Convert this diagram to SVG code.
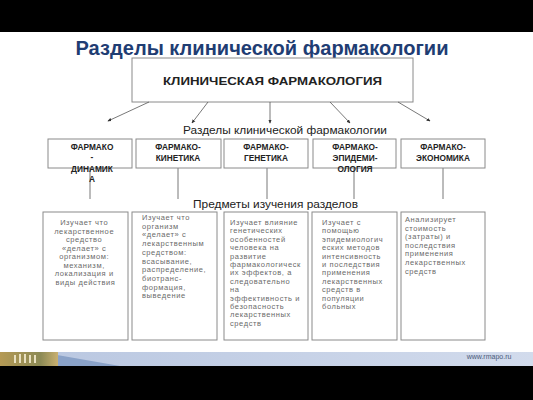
<svg xmlns="http://www.w3.org/2000/svg" width="533" height="400" viewBox="0 0 533 400">
<defs>
<marker id="ah" viewBox="0 0 6 6" refX="5" refY="3" markerWidth="5" markerHeight="5" orient="auto"><path d="M0,0.5 L6,3 L0,5.5 Z" fill="#333"/></marker>
<linearGradient id="band" x1="0" y1="0" x2="1" y2="0"><stop offset="0" stop-color="#b8c6e0"/><stop offset="1" stop-color="#d2dbec"/></linearGradient>
<linearGradient id="bld" x1="0" y1="0" x2="1" y2="0"><stop offset="0" stop-color="#b59a55"/><stop offset="0.7" stop-color="#8c8a55"/><stop offset="1" stop-color="#c9b070"/></linearGradient>
<style>
.box{fill:#fff;stroke:#8a8a8a;stroke-width:1}
.con{stroke:#555;stroke-width:0.8;fill:none}
.hd{font-family:"Liberation Sans",Arial,sans-serif;font-weight:bold;font-size:8.3px;fill:#222;text-anchor:middle}
.sm{font-family:"Liberation Sans",Arial,sans-serif;font-size:7.5px;letter-spacing:0.6px;fill:#6a6a6a}
.lb{font-family:"Liberation Sans",Arial,sans-serif;fill:#222;text-anchor:middle}
</style>
</defs>
<rect x="0" y="0" width="533" height="400" fill="#fff"/>
<rect x="0" y="0" width="533" height="32" fill="#000"/>
<rect x="0" y="366" width="533" height="34" fill="#000"/>
<rect x="0" y="352" width="533" height="14" fill="url(#band)"/>
<path d="M40,352 L120,366 L40,366 Z" fill="#8aa2c8"/>
<rect x="0" y="352" width="58" height="14" fill="url(#bld)"/>
<g fill="#e8e0c0"><rect x="14" y="355" width="2" height="8"/><rect x="19" y="354" width="2" height="9"/><rect x="24" y="354" width="2" height="9"/><rect x="29" y="355" width="2" height="8"/><rect x="34" y="355" width="2" height="8"/></g>
<text x="489" y="359" font-family="Liberation Sans,Arial,sans-serif" font-size="7" fill="#4a5a7a" text-anchor="middle">www.rmapo.ru</text>

<text x="262" y="55" font-family="Liberation Sans,Arial,sans-serif" font-weight="bold" font-size="20" fill="#1f3d73" text-anchor="middle" textLength="373" lengthAdjust="spacingAndGlyphs">Разделы клинической фармакологии</text>

<g id="top">
<rect class="box" x="132" y="58" width="281" height="44"/>
<text class="lb" x="272.5" y="85" font-size="11" font-weight="bold" fill="#111" textLength="219" lengthAdjust="spacingAndGlyphs">КЛИНИЧЕСКАЯ ФАРМАКОЛОГИЯ</text>
</g>

<g id="connectors">
<line class="con" x1="149" y1="102" x2="108" y2="121" marker-end="url(#ah)"/>
<line class="con" x1="208" y1="102" x2="192" y2="123" marker-end="url(#ah)"/>
<line class="con" x1="270" y1="102" x2="270" y2="123" marker-end="url(#ah)"/>
<line class="con" x1="330" y1="102" x2="350" y2="123" marker-end="url(#ah)"/>
<line class="con" x1="398" y1="102" x2="430" y2="121" marker-end="url(#ah)"/>
<line class="con" x1="90" y1="168" x2="90" y2="199"/>
<line class="con" x1="178" y1="168" x2="178" y2="199"/>
<line class="con" x1="267" y1="168" x2="267" y2="199"/>
<line class="con" x1="354" y1="168" x2="354" y2="199"/>
<line class="con" x1="443" y1="168" x2="443" y2="199"/>
</g>

<text class="lb" x="285" y="134" font-size="10" textLength="204" lengthAdjust="spacingAndGlyphs">Разделы клинической фармакологии</text>
<text class="lb" x="275.5" y="208" font-size="10.5" textLength="165" lengthAdjust="spacingAndGlyphs">Предметы изучения разделов</text>

<g id="n1">
<rect class="box" x="48" y="139" width="84" height="29"/>
<text class="hd" x="92" y="150">ФАРМАКО</text>
<text class="hd" x="92" y="160">-</text>
<text class="hd" x="92" y="172">ДИНАМИК</text>
<text class="hd" x="92" y="182">А</text>
</g>
<g id="n2">
<rect class="box" x="136" y="139" width="85" height="29"/>
<text class="hd" x="178" y="150">ФАРМАКО-</text>
<text class="hd" x="178" y="161">КИНЕТИКА</text>
</g>
<g id="n3">
<rect class="box" x="224" y="139" width="84" height="29"/>
<text class="hd" x="266" y="150">ФАРМАКО-</text>
<text class="hd" x="266" y="161">ГЕНЕТИКА</text>
</g>
<g id="n4">
<rect class="box" x="313" y="139" width="83" height="29"/>
<text class="hd" x="355" y="150">ФАРМАКО-</text>
<text class="hd" x="355" y="161">ЭПИДЕМИ-</text>
<text class="hd" x="355" y="172">ОЛОГИЯ</text>
</g>
<g id="n5">
<rect class="box" x="401" y="139" width="84" height="29"/>
<text class="hd" x="443" y="150">ФАРМАКО-</text>
<text class="hd" x="443" y="161">ЭКОНОМИКА</text>
</g>

<g id="d1">
<rect class="box" x="43" y="212" width="85" height="128"/>
<text class="sm" text-anchor="middle">
<tspan x="85.5" y="225">Изучает что</tspan>
<tspan x="85.5" dy="8.5">лекарственное</tspan>
<tspan x="85.5" dy="8.5">средство</tspan>
<tspan x="85.5" dy="8.5">«делает» с</tspan>
<tspan x="85.5" dy="8.5">организмом:</tspan>
<tspan x="85.5" dy="8.5">механизм,</tspan>
<tspan x="85.5" dy="8.5">локализация и</tspan>
<tspan x="85.5" dy="8.5">виды действия</tspan>
</text>
</g>
<g id="d2">
<rect class="box" x="132" y="212" width="85" height="128"/>
<text class="sm">
<tspan x="142" y="220">Изучает что</tspan>
<tspan x="142" dy="8.7">организм</tspan>
<tspan x="142" dy="8.7">«делает» с</tspan>
<tspan x="142" dy="8.7">лекарственным</tspan>
<tspan x="142" dy="8.7">средством:</tspan>
<tspan x="142" dy="8.7">всасывание,</tspan>
<tspan x="142" dy="8.7">распределение,</tspan>
<tspan x="142" dy="8.7">биотранс-</tspan>
<tspan x="142" dy="8.7">формация,</tspan>
<tspan x="142" dy="8.7">выведение</tspan>
</text>
</g>
<g id="d3">
<rect class="box" x="224" y="212" width="84" height="128"/>
<text class="sm">
<tspan x="230" y="225">Изучает влияние</tspan>
<tspan x="230" dy="8.4">генетических</tspan>
<tspan x="230" dy="8.4">особенностей</tspan>
<tspan x="230" dy="8.4">человека на</tspan>
<tspan x="230" dy="8.4">развитие</tspan>
<tspan x="230" dy="8.4">фармакологическ</tspan>
<tspan x="230" dy="8.4">их эффектов, а</tspan>
<tspan x="230" dy="8.4">следовательно</tspan>
<tspan x="230" dy="8.4">на</tspan>
<tspan x="230" dy="8.4">эффективность и</tspan>
<tspan x="230" dy="8.4">безопасность</tspan>
<tspan x="230" dy="8.4">лекарственных</tspan>
<tspan x="230" dy="8.4">средств</tspan>
</text>
</g>
<g id="d4">
<rect class="box" x="312" y="212" width="85" height="128"/>
<text class="sm">
<tspan x="322" y="225">Изучает с</tspan>
<tspan x="322" dy="8.4">помощью</tspan>
<tspan x="322" dy="8.4">эпидемиологич</tspan>
<tspan x="322" dy="8.4">еских методов</tspan>
<tspan x="322" dy="8.4">интенсивность</tspan>
<tspan x="322" dy="8.4">и последствия</tspan>
<tspan x="322" dy="8.4">применения</tspan>
<tspan x="322" dy="8.4">лекарственных</tspan>
<tspan x="322" dy="8.4">средств в</tspan>
<tspan x="322" dy="8.4">популяции</tspan>
<tspan x="322" dy="8.4">больных</tspan>
</text>
</g>
<g id="d5">
<rect class="box" x="401" y="212" width="84" height="128"/>
<text class="sm">
<tspan x="405" y="222">Анализирует</tspan>
<tspan x="405" dy="8.6">стоимость</tspan>
<tspan x="405" dy="8.6">(затраты) и</tspan>
<tspan x="405" dy="8.6">последствия</tspan>
<tspan x="405" dy="8.6">применения</tspan>
<tspan x="405" dy="8.6">лекарственных</tspan>
<tspan x="405" dy="8.6">средств</tspan>
</text>
</g>
</svg>
